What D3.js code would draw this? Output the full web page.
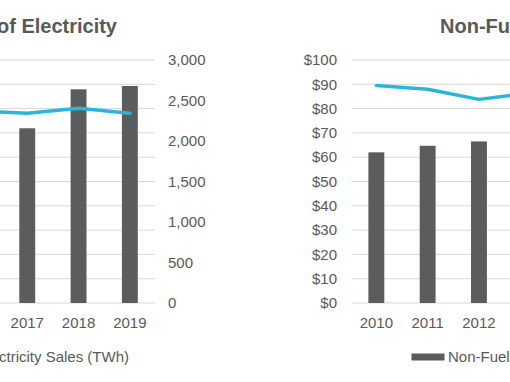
<!DOCTYPE html>
<html><head><meta charset="utf-8">
<script src="https://cdn.jsdelivr.net/npm/d3@7"></script>
<style>body{margin:0;background:#fff;}svg{display:block;font-family:"Liberation Sans",Arial,sans-serif;}</style>
</head><body><svg id="c" width="510" height="382"></svg>
<script>
// Left chart (partially visible): electricity sales (bars, right axis) and price (line, hidden left axis)
const leftLineYears = ["2016","2017","2018","2019"];
const leftPrice = [79.0, 78.1, 80.1, 78.1];
const leftBarYears = ["2017","2018","2019"];
const leftSales = [2157, 2638, 2679];
const leftRightTicks = [0,500,1000,1500,2000,2500,3000];
const leftGridTicks = [0,10,20,30,40,50,60,70,80,90,100];

// Right chart (partially visible): non-fuel costs
const rightLineYears = ["2010","2011","2012","2013"];
const rightLine = [89.5, 88.0, 83.8, 86.5];
const rightBarYears = ["2010","2011","2012"];
const rightBars = [62.0, 64.7, 66.5];
const rightTicks = [0,10,20,30,40,50,60,70,80,90,100];

const svg = d3.select("#c");
const gray = "#595959", barCol = "#5B5C5E", lineCol = "#2BB6D7", gridCol = "#D9D9D9";
const yTop = 60, yBot = 303, step = 51.3;

// ---- Left chart
const xL = d3.scaleBand().domain(leftLineYears).range([155.5 - step*leftLineYears.length, 155.5]);
const yLpct = d3.scaleLinear().domain([0,100]).range([yBot,yTop]);
const yLsales = d3.scaleLinear().domain([0,3000]).range([yBot,yTop]);
const gL = svg.append("g");
gL.selectAll("line.g").data(leftGridTicks).join("line")
  .attr("x1",-60).attr("x2",155).attr("y1",d=>yLpct(d)).attr("y2",d=>yLpct(d))
  .attr("stroke",gridCol).attr("stroke-width",1);
const bw = step*0.31;
gL.selectAll("rect").data(leftBarYears).join("rect")
  .attr("x",d=>xL(d)+xL.bandwidth()/2-bw/2).attr("width",bw)
  .attr("y",(d,i)=>yLsales(leftSales[i])).attr("height",(d,i)=>yBot-yLsales(leftSales[i]))
  .attr("fill",barCol);
gL.append("path").datum(leftLineYears)
  .attr("d",d3.line().x(d=>xL(d)+xL.bandwidth()/2).y((d,i)=>yLpct(leftPrice[i])))
  .attr("fill","none").attr("stroke",lineCol).attr("stroke-width",3.5).attr("stroke-linejoin","round").attr("stroke-linecap","round");
gL.selectAll("text.r").data(leftRightTicks).join("text")
  .attr("x",168).attr("y",d=>yLsales(d)).attr("dy","0.35em")
  .attr("fill",gray).attr("font-size",15).text(d=>d3.format(",")(d));
gL.selectAll("text.x").data(leftBarYears).join("text")
  .attr("x",d=>xL(d)+xL.bandwidth()/2).attr("y",328).attr("text-anchor","middle")
  .attr("fill",gray).attr("font-size",15).text(d=>d);
gL.append("text").attr("x",117).attr("y",33).attr("text-anchor","end")
  .attr("fill",gray).attr("font-size",20).attr("font-weight","bold").text("Sales and Price of Electricity");
gL.append("text").attr("x",129).attr("y",362).attr("text-anchor","end")
  .attr("fill",gray).attr("font-size",15).text("Electricity Sales (TWh)");

// ---- Right chart
const xR = d3.scaleBand().domain(rightLineYears).range([350.7, 350.7 + step*rightLineYears.length]);
const yR = d3.scaleLinear().domain([0,100]).range([yBot,yTop]);
const gR = svg.append("g");
gR.selectAll("line").data(rightTicks).join("line")
  .attr("x1",351.5).attr("x2",560).attr("y1",d=>yR(d)).attr("y2",d=>yR(d))
  .attr("stroke",gridCol).attr("stroke-width",1);
gR.selectAll("rect").data(rightBarYears).join("rect")
  .attr("x",d=>xR(d)+xR.bandwidth()/2-bw/2).attr("width",bw)
  .attr("y",(d,i)=>yR(rightBars[i])).attr("height",(d,i)=>yBot-yR(rightBars[i]))
  .attr("fill",barCol);
gR.append("path").datum(rightLineYears)
  .attr("d",d3.line().x(d=>xR(d)+xR.bandwidth()/2).y((d,i)=>yR(rightLine[i])))
  .attr("fill","none").attr("stroke",lineCol).attr("stroke-width",3.5).attr("stroke-linejoin","round").attr("stroke-linecap","round");
gR.selectAll("text.y").data(rightTicks).join("text")
  .attr("x",337).attr("y",d=>yR(d)).attr("dy","0.35em").attr("text-anchor","end")
  .attr("fill",gray).attr("font-size",15).text(d=>"$"+d);
gR.selectAll("text.x").data(rightBarYears).join("text")
  .attr("x",d=>xR(d)+xR.bandwidth()/2).attr("y",328).attr("text-anchor","middle")
  .attr("fill",gray).attr("font-size",15).text(d=>d);
gR.append("text").attr("x",440).attr("y",33)
  .attr("fill",gray).attr("font-size",20).attr("font-weight","bold").text("Non-Fuel O&M Costs");
gR.append("rect").attr("x",411.5).attr("y",353.5).attr("width",33).attr("height",7).attr("fill",barCol);
gR.append("text").attr("x",448).attr("y",362)
  .attr("fill",gray).attr("font-size",15).text("Non-Fuel Costs ($/MWh)");
</script></body></html>
